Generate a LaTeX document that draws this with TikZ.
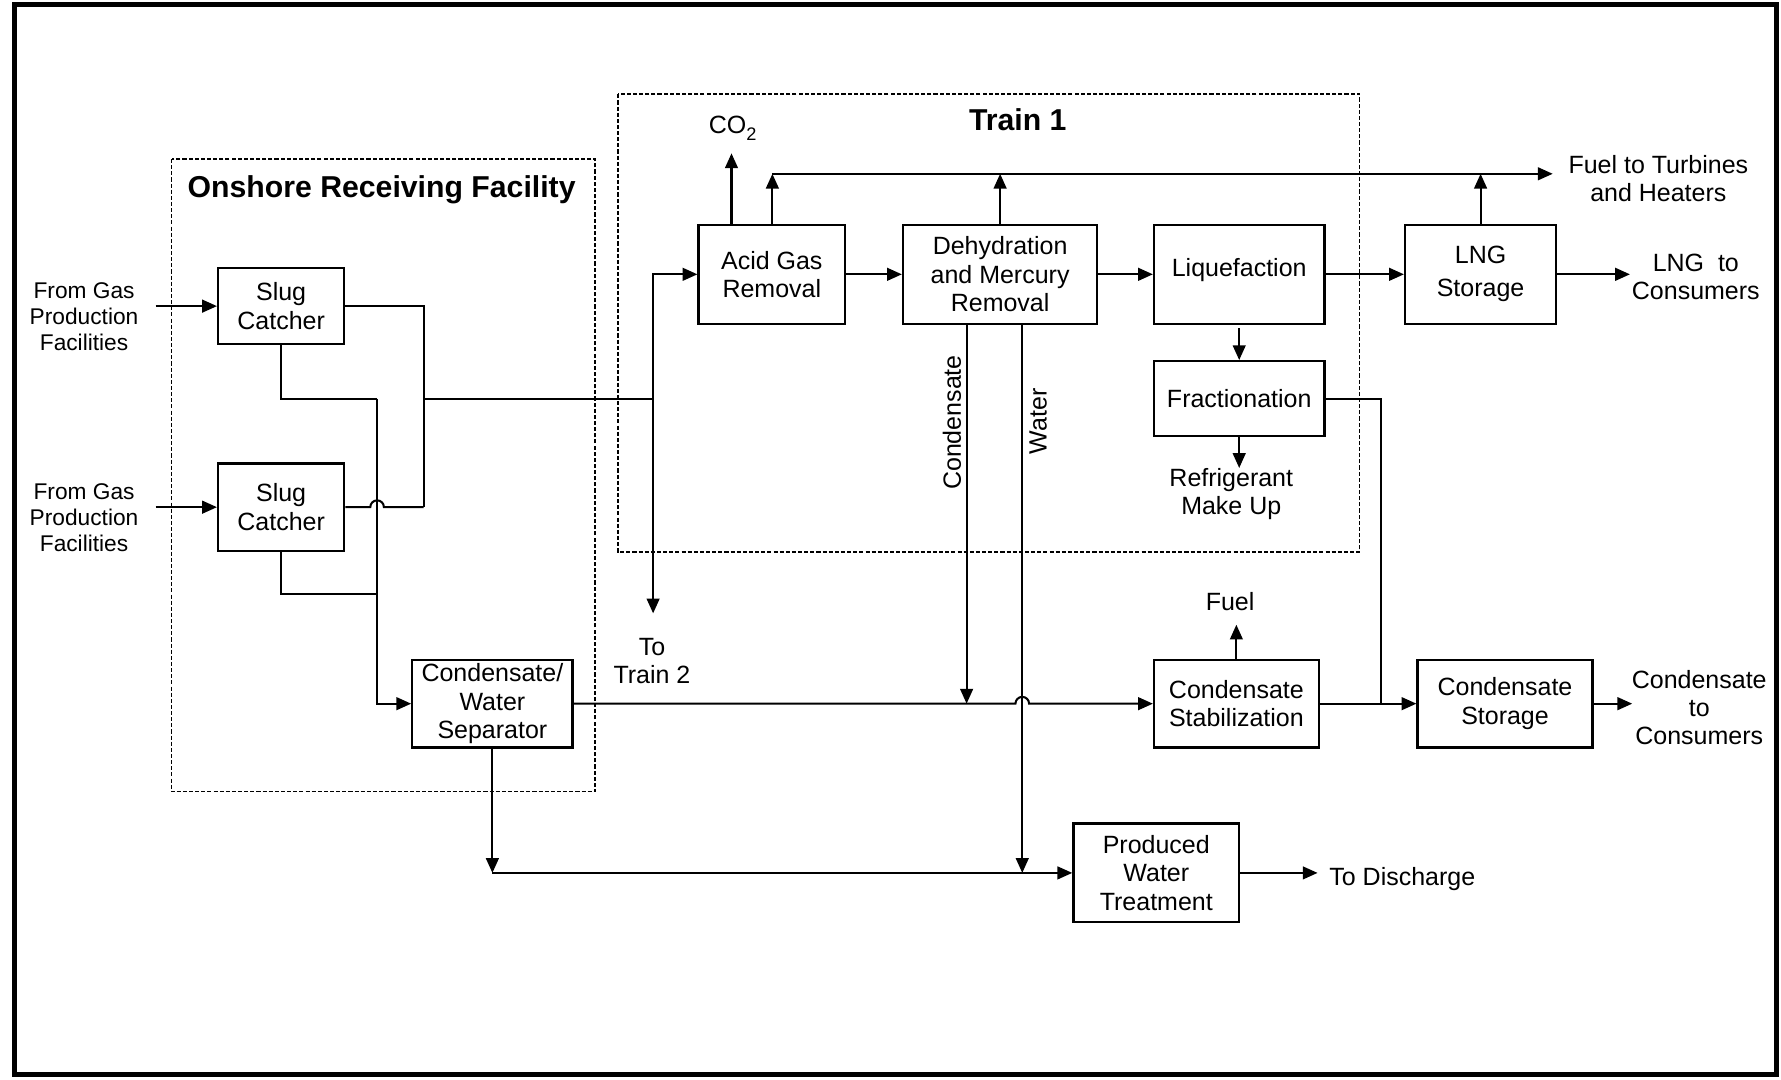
\documentclass[tikz,border=0pt]{standalone}
\usepackage{fontspec}
\setmainfont{Liberation Sans}
\usetikzlibrary{arrows.meta,fit}
\begin{document}
\begin{tikzpicture}[x=0.5pt,y=-0.5pt,
 box/.style={draw,line width=1pt,inner sep=0pt,align=center,font=\fontsize{11}{12.5}\selectfont},
 lbl/.style={align=center,font=\fontsize{11}{12.5}\selectfont,inner sep=0pt},
 src/.style={align=center,font=\fontsize{10}{11.5}\selectfont,inner sep=0pt},
 ttl/.style={font=\bfseries\fontsize{13.3}{15}\selectfont,inner sep=0pt},
 ln/.style={line width=0.9pt},
 arr/.style={line width=0.9pt,-{Triangle[length=6.5pt,width=5.6pt]}},
 grp/.style={line width=0.7pt,dash pattern=on 1.8pt off 0.9pt},
 ]
\useasboundingbox (0,0) rectangle (1568,950);
% outer frame
\draw[line width=2pt] (13,4) rectangle (1564,946);
% group boxes
\draw[grp] (151,140) rectangle (524,697);
\node[ttl] (tons) at (336,167) {Onshore Receiving Facility};
\draw[grp] (544,83) rectangle (1197,486);
\node[ttl] (ttr) at (896,105) {Train 1};
% process boxes
\node[box,fit={(192,236) (303,303)}] (sc1) {};
\node[lbl] at (sc1.center) {Slug\\Catcher};
\node[box,fit={(192,408) (303,485)}] (sc2) {};
\node[lbl] at (sc2.center) {Slug\\Catcher};
\node[box,fit={(363,581) (504,658)}] (sep) {};
\node[lbl] at (sep.center) {Condensate/\\Water\\Separator};
\node[box,fit={(615,198) (744,285)}] (agr) {};
\node[lbl] at (agr.center) {Acid Gas\\Removal};
\node[box,fit={(795,198) (966,285)}] (dhy) {};
\node[lbl] at (dhy.center) {Dehydration\\and Mercury\\Removal};
\node[box,fit={(1016,198) (1166,285)}] (liq) {};
\node[lbl] at ([yshift=2pt]liq.center) {Liquefaction};
\node[box,fit={(1237,198) (1370,285)}] (lng) {};
\node[lbl] at (lng.center) {LNG\\[2pt]Storage};
\node[box,fit={(1016,318) (1166,384)}] (frac) {};
\node[lbl] at (frac.center) {Fractionation};
\node[box,fit={(1016,581) (1161,658)}] (stab) {};
\node[lbl] at (stab.center) {Condensate\\Stabilization};
\node[box,fit={(1248,581) (1402,658)}] (csto) {};
\node[lbl] at (csto.center) {Condensate\\Storage};
\node[box,fit={(945,725) (1091,812)}] (pwt) {};
\node[lbl] at (pwt.center) {Produced\\Water\\Treatment};
% free-end coordinates
\coordinate (in1) at (137,269.5);
\coordinate (in2) at (137,446.5);
\coordinate (jg) at (373,351);
\coordinate (jt) at (575,351);
\coordinate (t2) at (575,540);
\coordinate (jl) at (332,351);
\coordinate (co2) at (644,135);
\coordinate (f1) at (680,153);
\coordinate (fend) at (1367,153);
\coordinate (lngout) at (1435,241.5);
\coordinate (refr) at (1091,412);
\coordinate (fuel) at (1088.5,550);
\coordinate (cout) at (1437,619.5);
\coordinate (dis) at (1160,768.5);
\coordinate (jw) at (433.5,768.5);
% labels
\node[src] (lin1) at (74,279) {From Gas\\Production\\Facilities};
\node[src] (lin2) at (74,456) {From Gas\\Production\\Facilities};
\node[lbl] (ltt2) at (574,582) {To\\Train 2};
\node[lbl] (lco2) at (645,113) {CO\raisebox{-3pt}{\fontsize{8}{8}\selectfont 2}};
\node[lbl] (lfuelt) at (1460,157) {Fuel to Turbines\\and Heaters};
\node[lbl] (llng) at (1493,244) {LNG\ \ to\\Consumers};
\node[lbl] (lref) at (1084,435) {Refrigerant\\Make Up};
\node[lbl] (lfuel) at (1083,530) {Fuel};
\node[lbl] (lcout) at (1496,623) {Condensate\\to\\Consumers};
\node[lbl,anchor=west] (ldis) at (1170,774) {To Discharge};
\node[lbl,rotate=90] (lcond) at (838,372) {Condensate};
\node[lbl,rotate=90] (lwat) at (914,371) {Water};
% connectors
\draw[arr] (in1) -- (sc1.west);
\draw[arr] (in2) -- (sc2.west);
\draw[ln] (sc1.east) -- (373,269.5) -- (373,446.5);
\draw[ln] (sc2.east) -- (326,446.5) arc[start angle=180,end angle=0,radius=3pt] -- (373,446.5);
\draw[ln] (jg) -- (jt);
\draw[arr] (jt) -- (575,241.5) -- (agr.west);
\draw[arr] (jt) -- (t2);
\draw[ln] (sc1.south) -- (247.5,351) -- (jl);
\draw[arr] (jl) -- (332,619.5) -- (sep.west);
\draw[ln] (sc2.south) -- (247.5,523) -- (332,523);
\draw[arr] (sep.east) -- (894,619.5) arc[start angle=180,end angle=0,radius=3pt] -- (stab.west);
\draw[arr] (851,285) -- (851,619.5);
\draw[arr] (900,285) -- (900,768.5);
\draw[arr] (sep.south) -- (jw);
\draw[arr] (jw) -- (pwt.west);
\draw[arr] (agr.east) -- (dhy.west);
\draw[arr] (dhy.east) -- (liq.west);
\draw[arr] (liq.east) -- (lng.west);
\draw[arr] (lng.east) -- (lngout);
\draw[arr] (644,198) -- (co2);
\draw[arr] (680,198) -- (f1);
\draw[arr] (f1) -- (fend);
\draw[arr] (dhy.north) -- (880.5,153);
\draw[arr] (lng.north) -- (1303.5,153);
\draw[arr] (1091,289) -- (frac.north);
\draw[arr] (frac.south) -- (refr);
\draw[ln] (frac.east) -- (1216,351) -- (1216,619.5);
\draw[arr] (stab.east) -- (csto.west);
\draw[arr] (stab.north) -- (fuel);
\draw[arr] (csto.east) -- (cout);
\draw[arr] (pwt.east) -- (dis);
\end{tikzpicture}
\end{document}
